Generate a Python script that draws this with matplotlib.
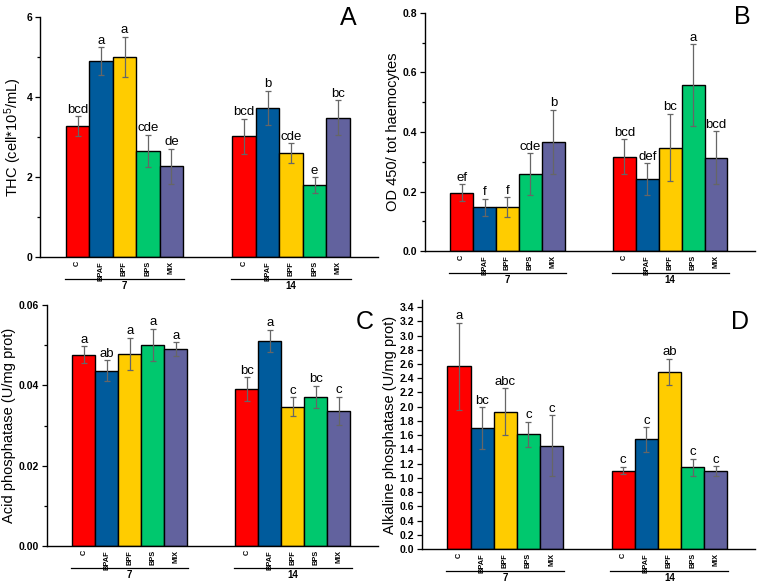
import matplotlib.pyplot as plt
import matplotlib.transforms as mtransforms
from matplotlib.ticker import MultipleLocator

plt.rcParams["font.family"] = ["Liberation Sans", "DejaVu Sans"]
plt.rcParams["mathtext.default"] = "regular"

# data
treatments = ["C", "BPAF", "BPF", "BPS", "MIX"]
days = ["7", "14"]
colors = ["#ff0000", "#005b9c", "#ffcc00", "#00c86e", "#62629e"]

thc_mean = [3.27, 4.89, 5.00, 2.65, 2.27, 3.02, 3.73, 2.60, 1.79, 3.48]
thc_err = [0.25, 0.35, 0.50, 0.40, 0.44, 0.44, 0.42, 0.24, 0.20, 0.44]
thc_letters = ["bcd", "a", "a", "cde", "de", "bcd", "b", "cde", "e", "bc"]

od_mean = [0.196, 0.147, 0.147, 0.258, 0.367, 0.317, 0.242, 0.347, 0.558, 0.314]
od_err = [0.028, 0.029, 0.033, 0.070, 0.107, 0.058, 0.053, 0.113, 0.137, 0.088]
od_letters = ["ef", "f", "f", "cde", "b", "bcd", "def", "bc", "a", "bcd"]

acp_mean = [0.0476, 0.0436, 0.0478, 0.0500, 0.0490, 0.0390, 0.0510, 0.0347, 0.0371, 0.0336]
acp_err = [0.0021, 0.0026, 0.0040, 0.0040, 0.0017, 0.0030, 0.0028, 0.0023, 0.0027, 0.0035]
acp_letters = ["a", "ab", "a", "a", "a", "bc", "a", "c", "bc", "c"]

alp_mean = [2.57, 1.70, 1.93, 1.61, 1.45, 1.10, 1.54, 2.49, 1.15, 1.09]
alp_err = [0.61, 0.29, 0.33, 0.18, 0.43, 0.05, 0.17, 0.18, 0.12, 0.07]
alp_letters = ["a", "bc", "abc", "c", "c", "c", "c", "ab", "c", "c"]

fig = plt.figure(figsize=(7.58, 5.87), dpi=100)

gap = 7.1
xpos = [g * gap + i for g in range(len(days)) for i in range(len(treatments))]


def panel(rect, mean, err, letters, ylabel, ylim, major, minor, fmt, tag, tagpos):
    ax = fig.add_axes(rect)
    ax.bar(xpos, mean, width=1.0, color=colors * 2, edgecolor="black", linewidth=1.0,
           yerr=err, error_kw=dict(ecolor="#666666", elinewidth=0.9, capsize=2.5, capthick=0.9))
    for x, m, e, lab in zip(xpos, mean, err, letters):
        ax.annotate(lab, (x, m + e), xytext=(0, 0.5), textcoords="offset points",
                    ha="center", va="bottom", fontsize=9.5)
    ax.set_xlim(-1.6, 12.8)
    ax.set_ylim(*ylim)
    ax.spines["top"].set_visible(False)
    ax.spines["right"].set_visible(False)
    ax.spines["left"].set_linewidth(1.0)
    ax.spines["bottom"].set_linewidth(1.0)
    ax.yaxis.set_major_locator(MultipleLocator(major))
    if minor:
        ax.yaxis.set_minor_locator(MultipleLocator(minor))
    ax.yaxis.set_major_formatter(fmt)
    ax.tick_params(axis="y", direction="out", length=3.5, width=0.9, labelsize=7.5, pad=2)
    ax.tick_params(axis="y", which="minor", direction="out", length=2, width=0.9)
    for t in ax.get_yticklabels():
        t.set_fontweight("bold")
    ax.set_xticks(xpos, treatments * 2, rotation=90, fontsize=5.3, fontweight="bold")
    ax.tick_params(axis="x", length=0, pad=3)
    ax.set_ylabel(ylabel, fontsize=10.5, labelpad=2)

    # group lines and day labels below the categories
    base = mtransforms.blended_transform_factory(ax.transData, ax.transAxes)
    line_tr = base + mtransforms.ScaledTranslation(0, -0.215, fig.dpi_scale_trans)
    text_tr = base + mtransforms.ScaledTranslation(0, -0.24, fig.dpi_scale_trans)
    for g, day in enumerate(days):
        x0 = g * gap - 0.55
        x1 = g * gap + len(treatments) - 0.45
        ax.plot([x0, x1], [0, 0], color="black", linewidth=0.9, transform=line_tr, clip_on=False)
        ax.text(g * gap + 2, 0, day, transform=text_tr, ha="center", va="top",
                fontsize=7, fontweight="bold")
    fig.text(tagpos[0] / 758, 1 - tagpos[1] / 587, tag, fontsize=18, ha="center", va="center")
    return ax


panel([40 / 758, 1 - 257 / 587, 338 / 758, 240 / 587], thc_mean, thc_err, thc_letters,
      "THC (cell*10$^{5}$/mL)", (0, 6), 2, 1, "{x:.0f}", "A", (348, 18))
panel([425 / 758, 1 - 251 / 587, 330 / 758, 238 / 587], od_mean, od_err, od_letters,
      "OD 450/ tot haemocytes", (0, 0.8), 0.2, 0.1, "{x:.1f}", "B", (742, 17))
panel([47 / 758, 1 - 546 / 587, 331 / 758, 241 / 587], acp_mean, acp_err, acp_letters,
      "Acid phosphatase (U/mg prot)", (0, 0.06), 0.02, 0.01, "{x:.2f}", "C", (365, 322))
panel([422 / 758, 1 - 549 / 587, 333 / 758, 249 / 587], alp_mean, alp_err, alp_letters,
      "Alkaline phosphatase (U/mg prot)", (0, 3.5), 0.2, None, "{x:.1f}", "D", (740, 322))

fig.savefig("out.png", dpi=100)
